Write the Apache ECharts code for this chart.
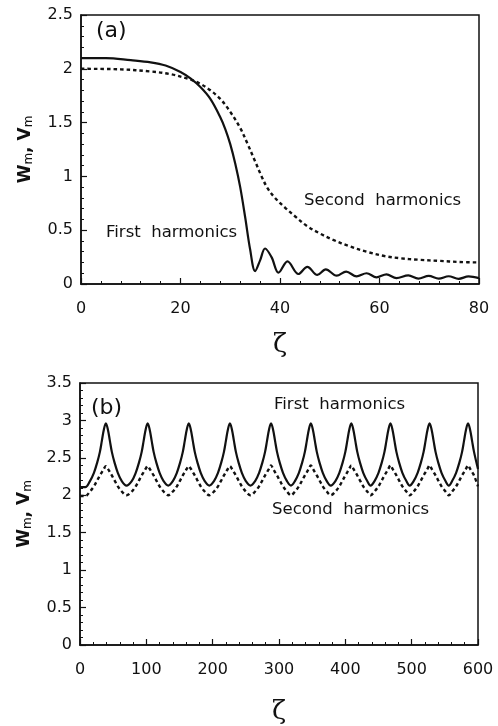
<!DOCTYPE html>
<html>
<head>
<meta charset="utf-8">
<script src="https://cdn.jsdelivr.net/npm/echarts@6/dist/echarts.min.js"></script>
<style>
  html, body { margin: 0; padding: 0; background: #fff; }
  #chart { width: 498px; height: 726px; }
</style>
</head>
<body>
<div id="chart"></div>
<script>
// panel (a): zeta 0..80
const aFirstX = [0, 5, 10, 14, 17, 20, 22, 24, 26, 28, 29, 30, 31, 32, 33, 34, 35, 36, 37, 38.3, 39.7, 41.5, 43.7, 45.5, 47.5, 49.2, 51.4, 53.3, 55.4, 57.4, 59.4, 61.4, 63.4, 65.8, 67.8, 69.9, 71.9, 73.9, 75.9, 77.9, 80];
const aFirstY = [2.10, 2.10, 2.08, 2.06, 2.03, 1.97, 1.91, 1.83, 1.72, 1.55, 1.44, 1.30, 1.12, 0.90, 0.62, 0.32, 0.12, 0.22, 0.33, 0.25, 0.105, 0.21, 0.093, 0.16, 0.084, 0.136, 0.077, 0.115, 0.071, 0.10, 0.062, 0.09, 0.055, 0.08, 0.05, 0.075, 0.05, 0.072, 0.048, 0.07, 0.055];
const aSecondX = [0, 8, 14, 18, 22, 24, 26, 28, 30, 32, 33.5, 35, 36.3, 37.5, 39, 41, 43, 45.4, 48, 50.7, 54, 57.4, 61, 64, 68, 72, 76, 80];
const aSecondY = [2.0, 1.995, 1.975, 1.95, 1.90, 1.86, 1.80, 1.72, 1.60, 1.45, 1.30, 1.14, 1.00, 0.89, 0.80, 0.71, 0.63, 0.54, 0.47, 0.41, 0.35, 0.30, 0.26, 0.24, 0.225, 0.215, 0.205, 0.20];

// panel (b): zeta 0..600
const bX = [0, 8,
  15, 21, 26, 30, 33, 36, 39, 42, 45, 48, 52, 57, 63, 70,
  78, 84, 89, 93, 96, 99, 102, 105, 108, 111, 115, 120, 126, 133,
  140, 146, 151, 155, 158, 161, 164, 167, 170, 173, 177, 182, 188, 195,
  202, 208, 213, 217, 220, 223, 226, 229, 232, 235, 239, 244, 250, 257,
  264, 270, 275, 279, 282, 285, 288, 291, 294, 297, 301, 306, 312, 318,
  324, 330, 335, 339, 342, 345, 348, 351, 354, 357, 361, 366, 372, 378,
  385, 391, 396, 400, 403, 406, 409, 412, 415, 418, 422, 427, 433, 438,
  444, 450, 455, 459, 462, 465, 468, 471, 474, 477, 481, 486, 492, 497,
  503, 509, 514, 518, 521, 524, 527, 530, 533, 536, 540, 545, 551, 556,
  561, 567, 572, 576, 579, 582, 585, 588, 591, 594, 600];
const bFirstY = [2.11, 2.11,
  2.19, 2.30, 2.44, 2.58, 2.73, 2.88, 2.96, 2.88, 2.73, 2.58, 2.44, 2.30, 2.19, 2.13,
  2.19, 2.30, 2.44, 2.58, 2.73, 2.88, 2.96, 2.88, 2.73, 2.58, 2.44, 2.30, 2.19, 2.13,
  2.19, 2.30, 2.44, 2.58, 2.73, 2.88, 2.96, 2.88, 2.73, 2.58, 2.44, 2.30, 2.19, 2.13,
  2.19, 2.30, 2.44, 2.58, 2.73, 2.88, 2.96, 2.88, 2.73, 2.58, 2.44, 2.30, 2.19, 2.13,
  2.19, 2.30, 2.44, 2.58, 2.73, 2.88, 2.96, 2.88, 2.73, 2.58, 2.44, 2.30, 2.19, 2.13,
  2.19, 2.30, 2.44, 2.58, 2.73, 2.88, 2.96, 2.88, 2.73, 2.58, 2.44, 2.30, 2.19, 2.13,
  2.19, 2.30, 2.44, 2.58, 2.73, 2.88, 2.96, 2.88, 2.73, 2.58, 2.44, 2.30, 2.19, 2.13,
  2.19, 2.30, 2.44, 2.58, 2.73, 2.88, 2.96, 2.88, 2.73, 2.58, 2.44, 2.30, 2.19, 2.13,
  2.19, 2.30, 2.44, 2.58, 2.73, 2.88, 2.96, 2.88, 2.73, 2.58, 2.44, 2.30, 2.19, 2.13,
  2.19, 2.30, 2.44, 2.58, 2.73, 2.88, 2.96, 2.88, 2.73, 2.58, 2.35];
const bSecondY = [1.99, 1.99,
  2.05, 2.12, 2.20, 2.265, 2.31, 2.355, 2.39, 2.355, 2.31, 2.265, 2.20, 2.12, 2.05, 2.00,
  2.05, 2.12, 2.20, 2.265, 2.31, 2.355, 2.39, 2.355, 2.31, 2.265, 2.20, 2.12, 2.05, 2.00,
  2.05, 2.12, 2.20, 2.265, 2.31, 2.355, 2.39, 2.355, 2.31, 2.265, 2.20, 2.12, 2.05, 2.00,
  2.05, 2.12, 2.20, 2.265, 2.31, 2.355, 2.39, 2.355, 2.31, 2.265, 2.20, 2.12, 2.05, 2.00,
  2.05, 2.12, 2.20, 2.265, 2.31, 2.355, 2.40, 2.355, 2.31, 2.265, 2.20, 2.12, 2.05, 2.00,
  2.05, 2.12, 2.20, 2.265, 2.31, 2.355, 2.40, 2.355, 2.31, 2.265, 2.20, 2.12, 2.05, 2.00,
  2.05, 2.12, 2.20, 2.265, 2.31, 2.355, 2.40, 2.355, 2.31, 2.265, 2.20, 2.12, 2.05, 2.00,
  2.05, 2.12, 2.20, 2.265, 2.31, 2.355, 2.40, 2.355, 2.31, 2.265, 2.20, 2.12, 2.05, 2.00,
  2.05, 2.12, 2.20, 2.265, 2.31, 2.355, 2.40, 2.355, 2.31, 2.265, 2.20, 2.12, 2.05, 2.00,
  2.05, 2.12, 2.20, 2.265, 2.31, 2.355, 2.40, 2.355, 2.31, 2.265, 2.12];

const zip = (xs, ys) => xs.map((x, i) => [x, ys[i]]);

const font = 'DejaVu Sans, Liberation Sans, Arial, sans-serif';
const black = '#111';

function xAxisFor(grid, max, interval, gap) {
  return {
    type: 'value', gridIndex: grid, min: 0, max: max, interval: interval,
    name: 'ζ', nameLocation: 'middle', nameGap: gap,
    nameTextStyle: { fontFamily: 'DejaVu Serif, serif', fontSize: 26, color: black },
    axisLine: { lineStyle: { color: black, width: 1.5 } },
    axisTick: { inside: true, length: 6, lineStyle: { color: black, width: 1.2 } },
    minorTick: { show: true, splitNumber: 5, length: 3, lineStyle: { color: black, width: 1 } },
    axisLabel: { fontFamily: font, fontSize: 16, color: black, margin: 17 },
    splitLine: { show: false }
  };
}
function yAxisFor(grid, max) {
  return {
    type: 'value', gridIndex: grid, min: 0, max: max, interval: 0.5,
    name: '{a|W}{s|m}{a|, V}{s|m}', nameLocation: 'middle', nameGap: 46,
    nameTextStyle: {
      color: black,
      rich: {
        a: { fontFamily: font, fontSize: 17, fontWeight: 'bold', color: black },
        s: { fontFamily: font, fontSize: 12, color: black, padding: [7, 0, 0, 0] }
      }
    },
    axisLine: { lineStyle: { color: black, width: 1.5 } },
    axisTick: { inside: true, length: 6, lineStyle: { color: black, width: 1.2 } },
    minorTick: { show: true, splitNumber: 5, length: 3, lineStyle: { color: black, width: 1 } },
    axisLabel: { fontFamily: font, fontSize: 16, color: black, margin: 8 },
    splitLine: { show: false }
  };
}

function lineSeries(grid, data, dotted) {
  return {
    type: 'line', xAxisIndex: grid, yAxisIndex: grid, data: data,
    smooth: 0.35, symbol: 'none', silent: true,
    lineStyle: dotted
      ? { color: black, width: 2.4, type: [3.5, 3] }
      : { color: black, width: 2.2 }
  };
}

function label(text, left, top, size) {
  return {
    type: 'text', left: left, top: top,
    style: { text: text, fontFamily: font, fontSize: size, fill: black }
  };
}

const myChart = echarts.init(document.getElementById('chart'));
myChart.setOption({
  animation: false,
  backgroundColor: '#fff',
  grid: [
    { left: 81, right: 19, top: 15, height: 269, show: true, borderColor: black, borderWidth: 1.5 },
    { left: 80, right: 20, top: 383, height: 270, show: true, borderColor: black, borderWidth: 1.5 }
  ],
  xAxis: [xAxisFor(0, 80, 20, 48), xAxisFor(1, 600, 100, 54)],
  yAxis: [yAxisFor(0, 2.5), yAxisFor(1, 3.5)],
  series: [
    lineSeries(0, zip(aFirstX, aFirstY), false),
    lineSeries(0, zip(aSecondX, aSecondY), true),
    lineSeries(1, zip(bX, bFirstY), false),
    lineSeries(1, zip(bX, bSecondY), true)
  ],
  graphic: [
    label('(a)', 96, 20, 22),
    label('First  harmonics', 106, 224, 16.5),
    label('Second  harmonics', 304, 192, 16.5),
    label('(b)', 91, 397, 22),
    label('First  harmonics', 274, 396, 16.5),
    label('Second  harmonics', 272, 501, 16.5)
  ]
});
</script>
</body>
</html>
